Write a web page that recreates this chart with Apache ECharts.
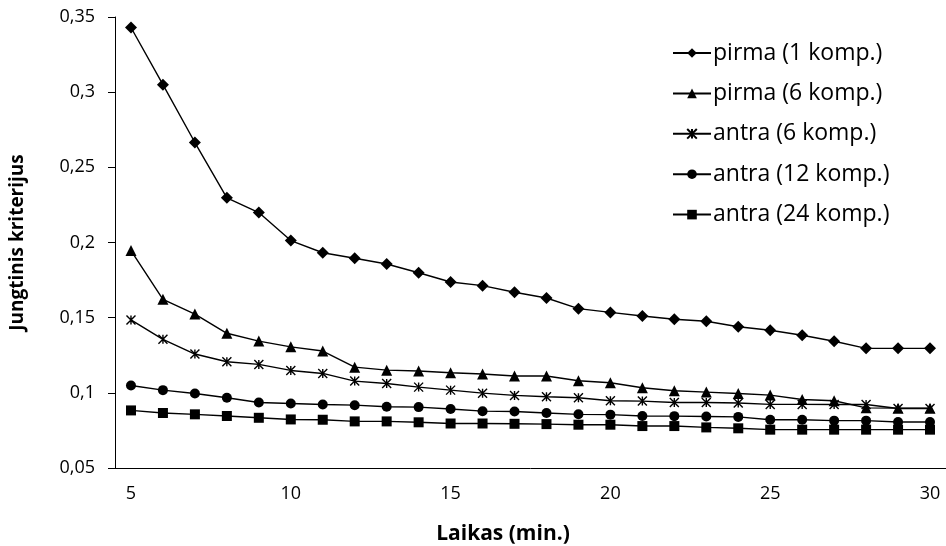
<!DOCTYPE html>
<html>
<head>
<meta charset="utf-8">
<script src="https://cdn.jsdelivr.net/npm/echarts@6/dist/echarts.min.js"></script>
<style>
  html, body { margin: 0; padding: 0; background: #fff; }
  #chart { width: 946px; height: 546px; }
</style>
</head>
<body>
<div id="chart"></div>
<script>
const minutes = ["5", "6", "7", "8", "9", "10", "11", "12", "13", "14", "15", "16", "17", "18", "19", "20",
  "21", "22", "23", "24", "25", "26", "27", "28", "29", "30"];

const pirma1 = [0.343, 0.305, 0.2665, 0.2297, 0.2199, 0.2013, 0.1932, 0.1895, 0.1857, 0.1799, 0.1737, 0.1713,
  0.1669, 0.1631, 0.156, 0.1535, 0.1511, 0.1489, 0.1476, 0.144, 0.1416, 0.1383, 0.1343, 0.1296, 0.1296, 0.1296];
const pirma6 = [0.1946, 0.1622, 0.1524, 0.1396, 0.1344, 0.1306, 0.1278, 0.1171, 0.1151, 0.1145, 0.1134, 0.1125,
  0.1112, 0.1112, 0.108, 0.1067, 0.1034, 0.1014, 0.1005, 0.0996, 0.0985, 0.0956, 0.0947, 0.09, 0.0898, 0.0898];
const antra6 = [0.1485, 0.1356, 0.1258, 0.1207, 0.1189, 0.1149, 0.1129, 0.1078, 0.1062, 0.1038, 0.1018, 0.0998,
  0.0983, 0.0974, 0.0967, 0.0947, 0.0945, 0.0936, 0.0936, 0.0932, 0.0923, 0.0923, 0.0922, 0.0922, 0.0896, 0.0896];
const antra12 = [0.1049, 0.1018, 0.0996, 0.0967, 0.0936, 0.0929, 0.0922, 0.0918, 0.0907, 0.0905, 0.0892, 0.0878,
  0.0876, 0.0866, 0.0857, 0.0855, 0.0846, 0.0845, 0.0843, 0.084, 0.0821, 0.0821, 0.0815, 0.0815, 0.0806, 0.0806];
const antra24 = [0.0883, 0.0866, 0.0857, 0.0846, 0.0834, 0.0823, 0.0821, 0.081, 0.081, 0.0804, 0.0796, 0.0796,
  0.0794, 0.0792, 0.0788, 0.0788, 0.0779, 0.0779, 0.077, 0.0764, 0.0755, 0.0755, 0.0755, 0.0755, 0.0755, 0.0755];

const seriesNames = ["pirma (1 komp.)", "pirma (6 komp.)", "antra (6 komp.)", "antra (12 komp.)", "antra (24 komp.)"];

const font = "'Open Sans', sans-serif";
// asterisk marker (x with a vertical stroke)
const starPath = "path://M0,0L10,10M10,0L0,10M5,0L5,10";

function lineSeries(name, data, symbol, size) {
  return {
    name: name,
    type: "line",
    data: data,
    symbol: symbol,
    symbolSize: size,
    showAllSymbol: true,
    color: "#000",
    lineStyle: { color: "#000", width: 1.4 },
    itemStyle: { color: "#000", borderColor: "#000", borderWidth: symbol === starPath ? 1.4 : 0 },
    animation: false,
  };
}

const chart = echarts.init(document.getElementById("chart"));
chart.setOption({
  animation: false,
  textStyle: { fontFamily: font },
  title: {
    text: "Laikas (min.)",
    left: 498,
    top: 519,
    textAlign: "center",
    textStyle: { fontFamily: font, fontSize: 21, fontWeight: "bold", color: "#000" },
  },
  legend: {
    orient: "vertical",
    left: 667,
    top: 36,
    itemWidth: 38,
    itemHeight: 12,
    itemGap: 16.4,
    data: seriesNames,
    textStyle: { fontFamily: font, fontSize: 23, color: "#000", lineHeight: 24, padding: [0, 0, 0, -3] },
  },
  grid: { left: 110, right: 0, top: 17, bottom: 78 },
  xAxis: {
    type: "category",
    data: minutes,
    boundaryGap: true,
    axisLine: { lineStyle: { color: "#000", width: 1 } },
    axisTick: { interval: 4, length: 5, lineStyle: { color: "#000" } },
    axisLabel: { interval: 4, margin: 17, fontSize: 18, color: "#000", fontFamily: font },
  },
  yAxis: {
    type: "value",
    min: 0.05,
    max: 0.35,
    interval: 0.05,
    name: "Jungtinis kriterijus",
    nameLocation: "middle",
    nameGap: 88,
    nameRotate: 90,
    nameTextStyle: { fontFamily: font, fontSize: 19, fontWeight: "bold", color: "#000" },
    axisLine: { show: true, lineStyle: { color: "#000", width: 1 } },
    axisTick: { show: true, length: 7, lineStyle: { color: "#000" } },
    splitLine: { show: false },
    axisLabel: {
      margin: 20,
      fontSize: 18,
      color: "#000",
      fontFamily: font,
      formatter: (v) => String(Math.round(v * 100) / 100).replace(".", ","),
    },
  },
  series: [
    lineSeries(seriesNames[0], pirma1, "diamond", 12),
    lineSeries(seriesNames[1], pirma6, "triangle", 11),
    lineSeries(seriesNames[2], antra6, starPath, 9),
    lineSeries(seriesNames[3], antra12, "circle", 10),
    lineSeries(seriesNames[4], antra24, "rect", 10),
  ],
});
</script>
</body>
</html>
